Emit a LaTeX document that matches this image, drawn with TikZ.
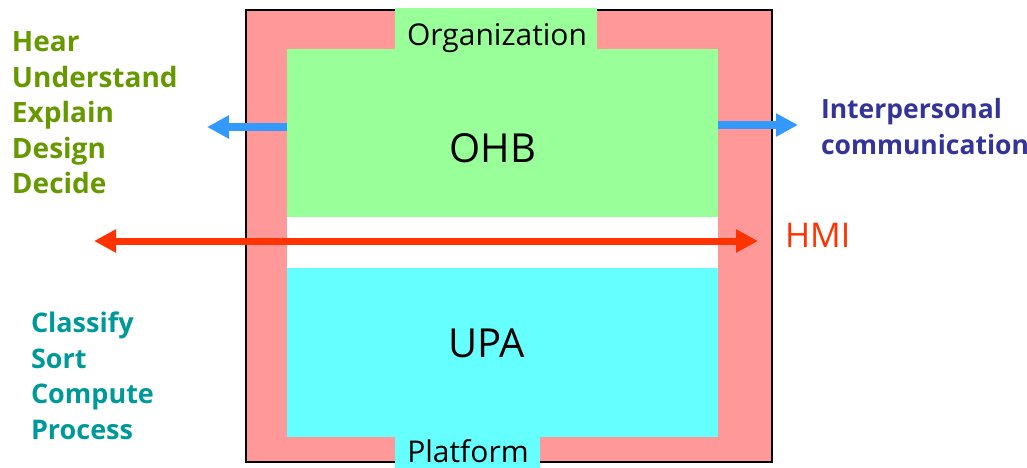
\documentclass[tikz,border=0pt]{standalone}
\usepackage{fontspec}
\setmainfont{Open Sans}
\usetikzlibrary{arrows.meta}

\definecolor{shellpink}{HTML}{FF9999}
\definecolor{ohbgreen}{HTML}{99FF99}
\definecolor{upacyan}{HTML}{66FFFF}
\definecolor{linkblue}{HTML}{3399FF}
\definecolor{hmired}{HTML}{FF3300}
\definecolor{olive}{HTML}{669900}
\definecolor{teal}{HTML}{009999}
\definecolor{indigo}{HTML}{333399}

\tikzset{
  panel/.style={rectangle, inner sep=0pt, outer sep=0pt, draw=none},
  word/.style={inner sep=0pt, outer sep=0pt, font=\fontsize{30}{36}\selectfont},
  bigword/.style={inner sep=0pt, outer sep=0pt, font=\fontsize{40}{48}\selectfont},
  verbs/.style={inner sep=0pt, outer sep=0pt, align=left, anchor=north west,
    font=\fontsize{28}{35.5}\bfseries\selectfont},
  bluearrow/.style={draw=linkblue, line width=7pt,
    -{Triangle[length=22pt,width=22pt]}},
  redarrow/.style={draw=hmired, line width=7pt,
    {Triangle[length=22pt,width=22pt]}-{Triangle[length=22pt,width=22pt]}},
}

\begin{document}
\begin{tikzpicture}[x=1pt,y=-1pt]
\useasboundingbox (0,0) rectangle (1027,468);

% outer frame and the two inner layers
\node[panel, fill=shellpink, draw=black, line width=2.5pt,
      minimum width=526pt, minimum height=452pt] (shell) at (509,236) {};
\node[panel, fill=ohbgreen, minimum width=431pt, minimum height=168pt] (ohb) at (502.5,133) {};
\node[panel, fill=white, minimum width=431pt, minimum height=51pt] (gap) at (502.5,242.5) {};
\node[panel, fill=upacyan, minimum width=431pt, minimum height=169pt] (upa) at (502.5,352.5) {};

% tabs on top and bottom
\node[panel, fill=ohbgreen, minimum width=202pt, minimum height=41pt] (orgtab) at (496,28.5) {};
\node[panel, fill=upacyan, minimum width=145pt, minimum height=32pt] (plattab) at (467.5,453) {};

% labels inside the frame
\node[word, anchor=base] (orglabel) at (497,46) {Organization};
\node[word, anchor=base] (platlabel) at (468,462) {Platform};
\node[bigword, anchor=base] (ohblabel) at (493,162) {OHB};
\node[bigword, anchor=base] (upalabel) at (487,357) {UPA};

% connectors
\coordinate (hearTip) at (207,127);
\coordinate (talkTip) at (798,125);
\coordinate (hmiL) at (94,241);
\coordinate (hmiR) at (758,241);
\draw[bluearrow] (ohb.west |- hearTip) -- (hearTip);
\draw[bluearrow] (ohb.east |- talkTip) -- (talkTip);
\draw[redarrow] (hmiL) -- (hmiR);

% side texts
\node[verbs, text=olive] (human) at (12,32) {Hear\\Understand\\Explain\\Design\\Decide};
\node[verbs, text=teal, font=\fontsize{27}{35.5}\bfseries\selectfont] (machine) at (31,312) {Classify\\Sort\\Compute\\Process};
\node[verbs, text=indigo, font=\fontsize{26.5}{36}\bfseries\selectfont] (talk) at (821,98) {Interpersonal\\communication};
\node[word, anchor=base west, text=hmired, font=\fontsize{34}{40}\selectfont] (hmi) at (785,247) {HMI};
\end{tikzpicture}
\end{document}
